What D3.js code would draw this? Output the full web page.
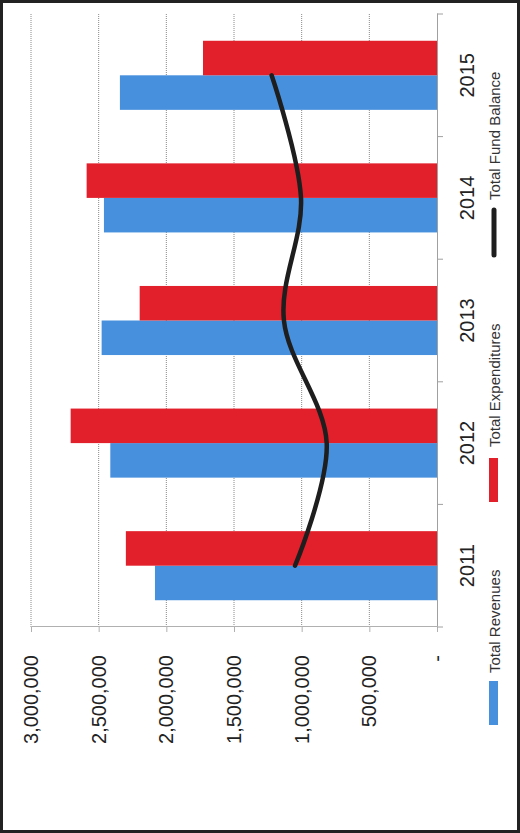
<!DOCTYPE html>
<html><head><meta charset="utf-8">
<script src="https://cdn.jsdelivr.net/npm/d3@7"></script>
<style>
html,body{margin:0;padding:0;background:#fff;}
svg{display:block;}
text{font-family:"Liberation Sans",Arial,sans-serif;}
</style></head>
<body>
<script>
// ---- data ----
const years = ["2011","2012","2013","2014","2015"];
const revenues = [2084000, 2414000, 2478000, 2461000, 2343000];
const expenditures = [2299000, 2707000, 2197000, 2589000, 1729000];
const fundBalance = [1049000, 815000, 1131000, 1005000, 1222000];
const valueTicks = [0, 500000, 1000000, 1500000, 2000000, 2500000, 3000000];
const seriesNames = ["Total Revenues", "Total Expenditures", "Total Fund Balance"];
const colors = {rev:"#4790dd", exp:"#e2202b", bal:"#1e1e1e"};

const SW = 520, SH = 833;
const svg = d3.select("body").append("svg").attr("width", SW).attr("height", SH);
svg.append("rect").attr("width", SW).attr("height", SH).attr("fill", "#fff");

// chart drawn in an unrotated frame (833 wide x 520 tall) then rotated -90deg
const g = svg.append("g").attr("transform", `translate(0,${SH}) rotate(-90)`);

const x = d3.scaleBand().domain(years).range([206, 819]).paddingInner(0).paddingOuter(0);
const y = d3.scaleLinear().domain([0, 3000000]).range([437, 31]);
const sub = d3.scaleBand().domain(["rev","exp"]).range([0, x.bandwidth()]).paddingInner(0).paddingOuter(0.775);

// gridlines
g.append("g").selectAll("line").data(valueTicks.filter(v => v > 0)).join("line")
  .attr("x1", 206).attr("x2", 819)
  .attr("y1", d => y(d)).attr("y2", d => y(d))
  .attr("stroke", "#8a8a8a").attr("stroke-width", 1).attr("stroke-dasharray", "1,1");

// value axis
const fmt = v => v === 0 ? "-" : d3.format(",")(v);
const yAxis = g.append("g").attr("transform", "translate(206,0)")
  .call(d3.axisLeft(y).tickValues(valueTicks).tickSizeInner(5).tickSizeOuter(0).tickPadding(23).tickFormat(fmt));
yAxis.select(".domain").attr("stroke", "#b0b0b0");
yAxis.selectAll(".tick line").attr("stroke", "#b0b0b0");
yAxis.selectAll("text").attr("font-size", 20).attr("fill", "#222")
  .attr("font-family", "'Liberation Sans', Arial, sans-serif");

// bars
const bars = g.append("g");
years.forEach((yr, i) => {
  [["rev", revenues[i]], ["exp", expenditures[i]]].forEach(([k, v]) => {
    bars.append("rect")
      .attr("x", x(yr) + sub(k)).attr("width", sub.bandwidth())
      .attr("y", y(v)).attr("height", y(0) - y(v))
      .attr("fill", colors[k]);
  });
});

// category axis
const xAxis = g.append("g").attr("transform", `translate(0,${y(0)})`)
  .call(d3.axisBottom(x).tickSize(0).tickPadding(23));
xAxis.select(".domain").attr("stroke", "#a0a0a0");
xAxis.selectAll("text").attr("font-size", 20).attr("fill", "#222")
  .attr("font-family", "'Liberation Sans', Arial, sans-serif");
const bounds = years.map(d => x(d)).concat([x.range()[1]]);
g.append("g").selectAll("line").data(bounds).join("line")
  .attr("x1", d => d).attr("x2", d => d)
  .attr("y1", y(0)).attr("y2", y(0) + 6)
  .attr("stroke", "#a0a0a0");

// fund balance line
const line = d3.line()
  .x((d, i) => x(years[i]) + x.bandwidth() / 2)
  .y(d => y(d))
  .curve(d3.curveCardinal.tension(0));
g.append("path").datum(fundBalance).attr("d", line)
  .attr("fill", "none").attr("stroke", colors.bal).attr("stroke-width", 4.5)
  .attr("stroke-linecap", "round");

// legend
const leg = g.append("g");
const legY = 489;
const legItems = [
  {k:"rev", mx:108, tx:160},
  {k:"exp", mx:331, tx:386},
  {k:"bal", mx:576, tx:633}
];
legItems.forEach((it, i) => {
  if (it.k === "bal") {
    leg.append("line").attr("x1", it.mx + 2).attr("x2", it.mx + 47)
      .attr("y1", legY + 5).attr("y2", legY + 5)
      .attr("stroke", colors.bal).attr("stroke-width", 5).attr("stroke-linecap", "round");
  } else {
    leg.append("rect").attr("x", it.mx).attr("y", legY).attr("width", 44).attr("height", 9)
      .attr("fill", colors[it.k]);
  }
  leg.append("text").attr("x", it.tx).attr("y", legY + 10.5)
    .attr("font-size", 15).attr("fill", "#333").text(seriesNames[i]);
});

// outer frame
svg.append("rect").attr("x", 1.5).attr("y", 1.5).attr("width", SW - 3).attr("height", SH - 3)
  .attr("fill", "none").attr("stroke", "#222").attr("stroke-width", 3);
</script>
</body></html>
